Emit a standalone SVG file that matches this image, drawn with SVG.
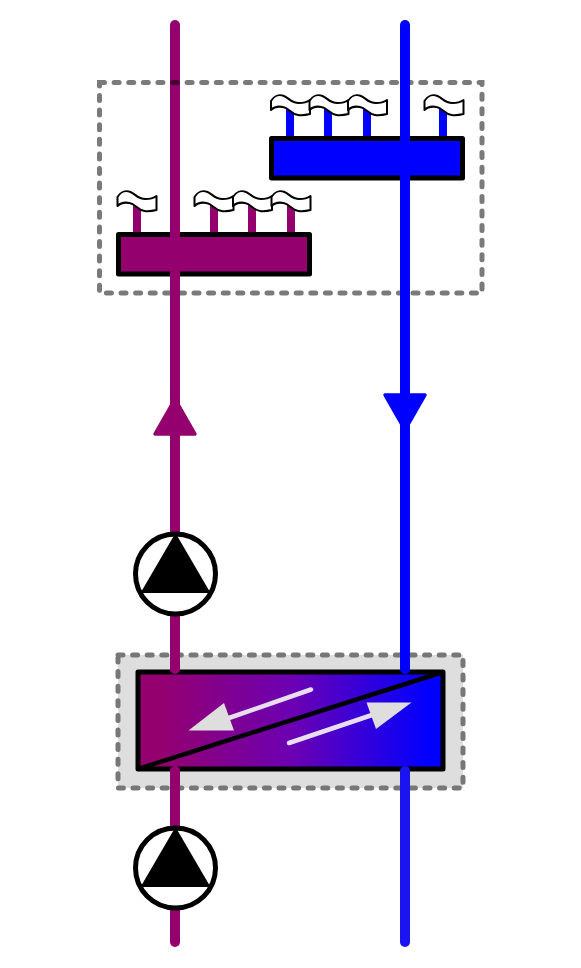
<svg xmlns="http://www.w3.org/2000/svg" width="581" height="968" viewBox="0 0 581 968">
<style>
.pipe{fill:none;stroke-width:10;stroke-linecap:round}
.purple{stroke:#95006f}
.blue{stroke:#0000ff}
.stub{fill:none;stroke-width:8}
.dash{stroke-width:5;stroke-dasharray:5 9.600;stroke-linecap:round}
.frame{stroke:#000;stroke-width:5;stroke-linejoin:round}
.flag{fill:#fff;stroke:#000;stroke-width:2;stroke-linejoin:round}
.pump{fill:#fff;stroke:#000;stroke-width:5}
</style>
<defs>
<linearGradient id="hxg" gradientUnits="userSpaceOnUse" x1="160" y1="0" x2="430" y2="0">
<stop offset="0" stop-color="#95006f"/><stop offset="0.5" stop-color="#6a00b4"/><stop offset="1" stop-color="#0000ff"/>
</linearGradient>
<path id="flag" class="flag" d="M0,15 L0,6 C3,1 8,-1 13,1 C18,3 20,8 28,8 C32,8 36,7 39,5 L39,19 C35,20 31,20.500 27,20 C20,19 18,13 12,12 C7,11 3,12 0,15 Z"/>
<g id="pumpsym">
<circle class="pump" cx="0" cy="0" r="40"/>
<path d="M0,-41 L35,19 L-35,19 Z" fill="#000"/>
</g>
</defs>
<g id="connector-top-purple"><path class="pipe purple" d="M175,25 V100"/></g>
<rect id="zone-dash" class="dash" x="99.500" y="82.500" width="382.500" height="210.500" fill="none" stroke="#000" stroke-opacity="0.52"/>
<g id="hx-zone"><rect class="dash" x="118" y="655" width="345" height="133" fill="#dedede" stroke="#777"/></g>
<g id="heat-exchanger">
<rect class="frame" x="138" y="672" width="305" height="97" fill="url(#hxg)"/>
<path d="M138,769 L443,672" stroke="#000" stroke-width="4.500" fill="none"/>
<path d="M311,689.500 L226,719" stroke="#e8def0" stroke-width="4.500" stroke-linecap="round" fill="none"/>
<path d="M188.500,730.500 L224,703 L234,730.500 Z" fill="#dedede"/>
<path d="M289,743 L375,714" stroke="#e8def0" stroke-width="4.500" stroke-linecap="round" fill="none"/>
<path d="M411.500,702.500 L366.500,702.500 L376,729 Z" fill="#dedede"/>
</g>
<g id="connectors">
<path class="pipe purple" d="M175,95 V669"/>
<path class="pipe purple" d="M175,771 V942"/>
<path class="pipe blue" d="M405,25 V669"/>
<path class="pipe" stroke="#1a14f0" d="M405,771 V942"/>
</g>
<g id="arrow-up"><path d="M175,399 L195,434 L155,434 Z" fill="#95006f" stroke="#95006f" stroke-width="3.500" stroke-linejoin="round"/></g>
<g id="arrow-down"><path d="M385,395 L425,395 L405,430 Z" fill="#0000ff" stroke="#0000ff" stroke-width="3.500" stroke-linejoin="round"/></g>
<g id="manifold-blue">
<path class="stub blue" d="M290,105 V140 M328,105 V140 M367,105 V140 M443,105 V140"/>
<use href="#flag" x="271" y="95"/><use href="#flag" x="309.500" y="95"/><use href="#flag" x="348" y="95"/><use href="#flag" x="424.500" y="95"/>
<rect class="frame" x="271.500" y="138.500" width="191" height="39.500" fill="#0000ff"/>
<path d="M400,25 H410 V190 H400 Z" fill="#0000ff"/>
</g>
<g id="manifold-purple">
<path class="stub purple" d="M137,201 V236 M214,201 V236 M252,201 V236 M291,201 V236"/>
<use href="#flag" x="117.500" y="191"/><use href="#flag" x="194.500" y="191"/><use href="#flag" x="233" y="191"/><use href="#flag" x="271.500" y="191"/>
<rect class="frame" x="118.500" y="234.500" width="191" height="39.500" fill="#95006f"/>
<path d="M170,200 H180 V285 H170 Z" fill="#95006f"/>
</g>
<g id="pump-upper"><use href="#pumpsym" x="175.500" y="574"/></g>
<g id="pump-lower"><use href="#pumpsym" x="175.500" y="868"/></g>
</svg>
